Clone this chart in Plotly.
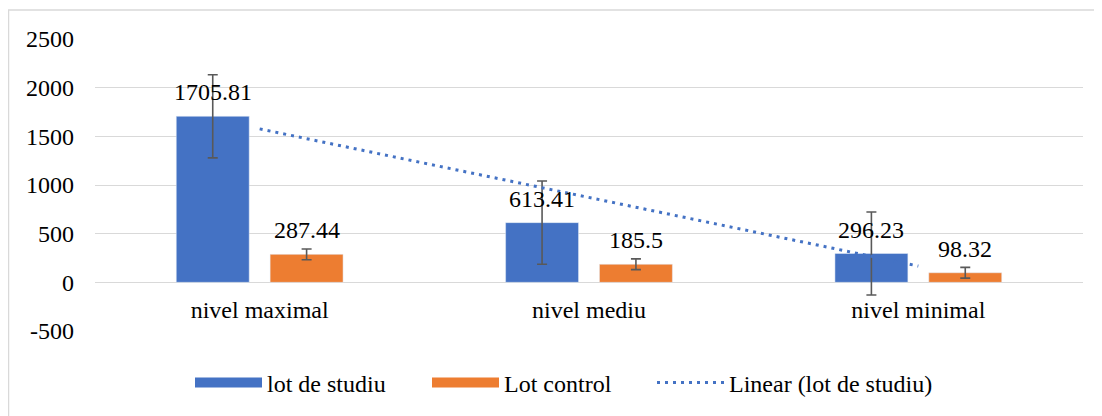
import numpy as np
import plotly.graph_objects as go

categories = ["nivel maximal", "nivel mediu", "nivel minimal"]
lot_studiu = [1705.81, 613.41, 296.23]
lot_control = [287.44, 185.5, 98.32]
err_studiu = [427, 427, 427]
err_control = [55, 55, 55]
y_ticks = [-500, 0, 500, 1000, 1500, 2000, 2500]

BLUE = "#4472C4"
ORANGE = "#ED7D31"
GRID = "#D9D9D9"
FONT = "Liberation Serif"
FS = 24

# page has an 8px body margin, so the figure fills the rest of the window
W, H = 1094, 408
ML, MR, MT, MB = 87, 19, 31, 84

# linear trendline of "lot de studiu"
xs = np.arange(1, len(lot_studiu) + 1)
slope, intercept = np.polyfit(xs, lot_studiu, 1)
trend = slope * xs + intercept

fig = go.Figure()
fig.add_trace(go.Bar(
    x=categories, y=lot_studiu, name="lot de studiu", marker_color=BLUE,
    showlegend=False,
    error_y=dict(type="data", array=err_studiu, color="#595959", thickness=1.6, width=5),
))
fig.add_trace(go.Bar(
    x=categories, y=lot_control, name="Lot control", marker_color=ORANGE,
    showlegend=False,
    error_y=dict(type="data", array=err_control, color="#595959", thickness=1.6, width=5),
))
fig.add_trace(go.Scatter(
    x=categories, y=trend, mode="lines", showlegend=False,
    line=dict(color=BLUE, width=3, dash="3px,5px"),
))
# legend entries, one legend each so they can be placed like the original
fig.add_trace(go.Scatter(x=[None], y=[None], mode="lines", name="lot de studiu",
                         line=dict(color=BLUE, width=12), legend="legend"))
fig.add_trace(go.Scatter(x=[None], y=[None], mode="lines", name="Lot control",
                         line=dict(color=ORANGE, width=12), legend="legend2"))
fig.add_trace(go.Scatter(x=[None], y=[None], mode="lines", name="Linear (lot de studiu)",
                         line=dict(color=BLUE, width=3, dash="3px,5px"), legend="legend3"))

annotations = []
for cat, v in zip(categories, lot_studiu):
    annotations.append(dict(x=cat, y=v, xref="x", yref="y", text=f"{v:g}", showarrow=False,
                            xshift=-47, yshift=9, yanchor="bottom",
                            font=dict(family=FONT, size=FS, color="#000")))
for cat, v in zip(categories, lot_control):
    annotations.append(dict(x=cat, y=v, xref="x", yref="y", text=f"{v:g}", showarrow=False,
                            xshift=47, yshift=9, yanchor="bottom",
                            font=dict(family=FONT, size=FS, color="#000")))

pw = W - ML - MR
ph = H - MT - MB


def leg(px):
    return dict(orientation="h", x=(px - ML) / pw, xanchor="left",
                y=-(375 - (H - MB)) / ph, yanchor="middle", itemwidth=67,
                font=dict(family=FONT, size=FS, color="#000"),
                bgcolor="rgba(0,0,0,0)")


fig.update_layout(
    width=W, height=H,
    margin=dict(l=ML, r=MR, t=MT, b=MB),
    paper_bgcolor="white", plot_bgcolor="white",
    barmode="group", bargap=0.43, bargroupgap=0.223,
    font=dict(family=FONT, size=FS, color="#000"),
    annotations=annotations,
    showlegend=True,
    legend=leg(182), legend2=leg(419), legend3=leg(644),
    shapes=[dict(type="rect", xref="paper", yref="paper",
                 x0=(0.5 - ML) / pw, x1=(W + 5 - ML) / pw,
                 y0=-(H + 5 - (H - MB)) / ph, y1=1 + (MT - 2) / ph,
                 line=dict(color=GRID, width=1.5), fillcolor="rgba(0,0,0,0)", layer="below")],
)
fig.update_yaxes(range=[-500, 2500], tickvals=y_ticks, ticktext=[str(t) for t in y_ticks],
                 showgrid=True, gridcolor=GRID, gridwidth=1.3,
                 zeroline=True, zerolinecolor=GRID, zerolinewidth=1.3,
                 showline=False, ticks="", ticklabelstandoff=20,
                 tickfont=dict(family=FONT, size=FS, color="#000"))
fig.update_xaxes(anchor="free", position=500 / 3000, showline=False, ticks="",
                 showgrid=False, ticklabelstandoff=11,
                 tickfont=dict(family=FONT, size=FS, color="#000"))

fig.write_html("out.html")
